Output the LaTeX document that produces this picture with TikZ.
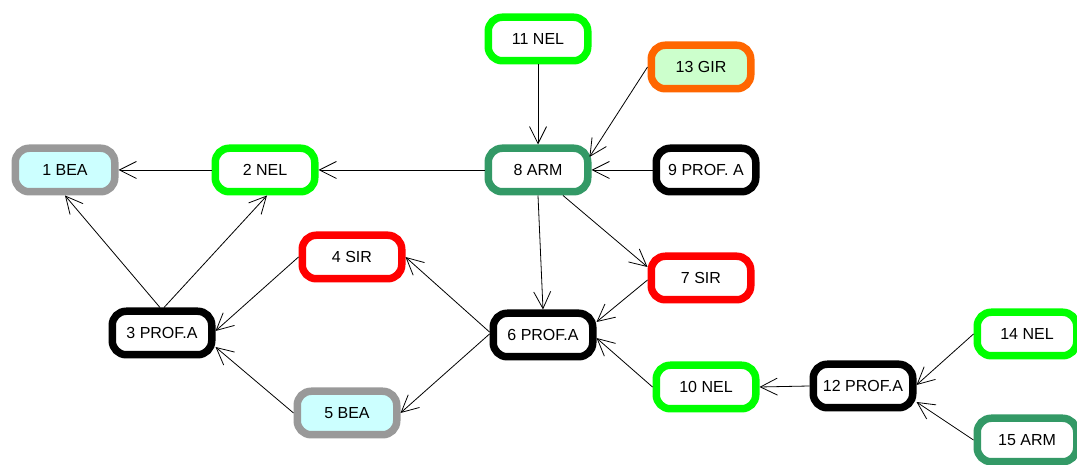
\documentclass[tikz,border=0pt]{standalone}
\usepackage{fontspec}
\setmainfont{Liberation Sans}
\usetikzlibrary{arrows.meta}
\definecolor{cgray}{HTML}{999999}
\definecolor{ccyan}{HTML}{CCFFFF}
\definecolor{cgreen}{HTML}{00FF00}
\definecolor{csea}{HTML}{339966}
\definecolor{corange}{HTML}{FF6600}
\definecolor{clgreen}{HTML}{CCFFCC}
\definecolor{cred}{HTML}{FF0000}
\tikzset{
  box/.style={draw, line width=7.5pt, rounded corners=14pt, minimum width=99.5pt,
    minimum height=43.5pt, inner sep=0pt, fill=white,
    font=\fontsize{16pt}{19pt}\selectfont},
  bea/.style={box, draw=cgray, fill=ccyan},
  nel/.style={box, draw=cgreen},
  arm/.style={box, draw=csea},
  prof/.style={box, draw=black},
  sir/.style={box, draw=cred},
  gir/.style={box, draw=corange, fill=clgreen},
  edge/.style={line width=0.8pt, -{Straight Barb[length=17pt,width=17pt,line width=0.8pt]}}
}
\begin{document}
\begin{tikzpicture}[x=1pt,y=1pt]
\useasboundingbox (0,0) rectangle (1077,465);
\clip (0,0) rectangle (1077,465);
\node[bea]  (n1)  at (65,295)   {1 BEA};
\node[nel]  (n2)  at (265,295)  {2 NEL};
\node[arm]  (n8)  at (538,295)  {8 ARM};
\node[prof] (n9)  at (706,295)  {9 PROF. A};
\node[nel]  (n11) at (538,426)  {11 NEL};
\node[gir]  (n13) at (701,398)  {13 GIR};
\node[sir]  (n4)  at (352,208)  {4 SIR};
\node[sir]  (n7)  at (701,187)  {7 SIR};
\node[prof] (n3)  at (162,132)  {3 PROF.A};
\node[prof] (n6)  at (543,130)  {6 PROF.A};
\node[bea]  (n5)  at (347,52)   {5 BEA};
\node[nel]  (n10) at (706,78)   {10 NEL};
\node[prof] (n12) at (863,79)   {12 PROF.A};
\node[nel]  (n14) at (1027,131) {14 NEL};
\node[arm]  (n15) at (1027,25)  {15 ARM};

\draw[edge] (n2.west) -- (n1.east);
\draw[edge] (n8.west) -- (n2.east);
\draw[edge] (n11.south) -- (n8.north);
\draw[edge] (n13.west) -- ([shift={(-2pt,13pt)}]n8.east);
\draw[edge] (n9.west) -- (n8.east);
\draw[edge] ([xshift=-2pt]n3.north) -- (n1.south);
\draw[edge] ([xshift=2pt]n3.north) -- ([xshift=2pt]n2.south);
\draw[edge] (n4.west) -- ([yshift=2pt]n3.east);
\draw[edge] (n5.west) -- ([yshift=-14pt]n3.east);
\draw[edge] ([yshift=3pt]n6.west) -- (n4.east);
\draw[edge] ([yshift=1pt]n6.west) -- (n5.east);
\draw[edge] (n8.south) -- (n6.north);
\draw[edge] ([xshift=25pt]n8.south) -- ([yshift=11pt]n7.west);
\draw[edge] ([yshift=-2pt]n7.west) -- ([yshift=13pt]n6.east);
\draw[edge] (n10.west) -- ([yshift=-3pt]n6.east);
\draw[edge] (n12.west) -- (n10.east);
\draw[edge] (n14.west) -- ([yshift=1pt]n12.east);
\draw[edge] (n15.west) -- ([yshift=-16pt]n12.east);
\end{tikzpicture}
\end{document}
